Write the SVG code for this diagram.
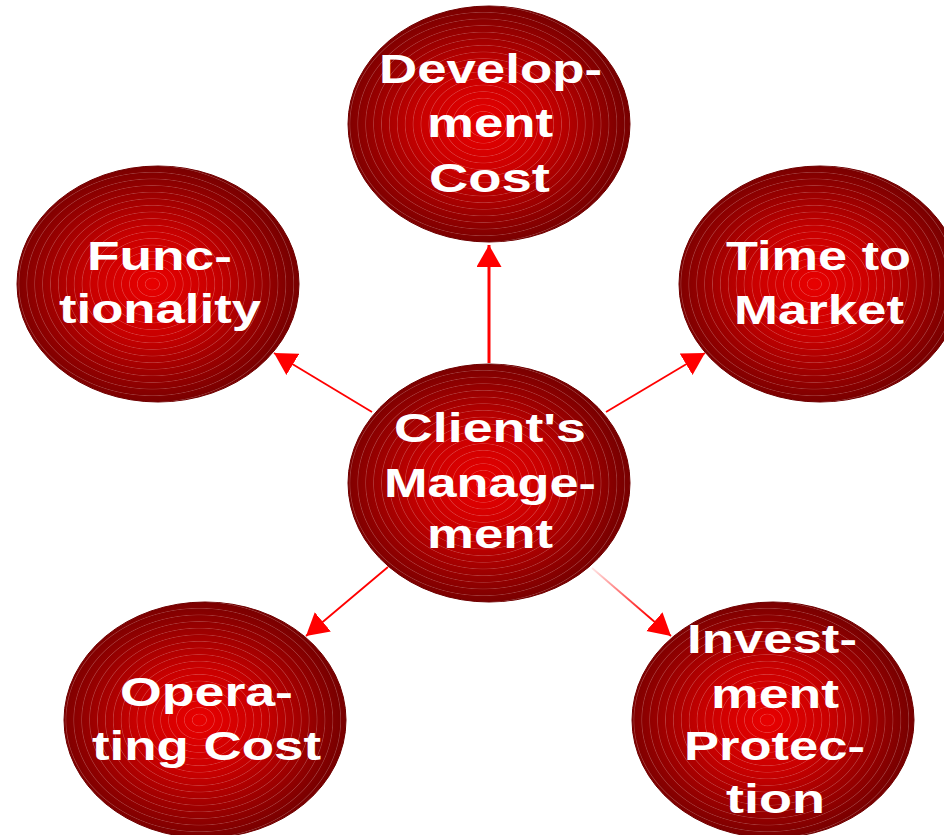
<svg xmlns="http://www.w3.org/2000/svg" width="944" height="835" viewBox="0 0 944 835">
<style>
.node{fill:url(#ball);stroke:#6e0000;stroke-width:1}
.ring{fill:url(#rings);stroke:none}
.lbl{font-family:"Liberation Sans",Arial,sans-serif;font-weight:bold;font-size:40px;fill:#fff}
.con{stroke:#ff0000;fill:none;stroke-width:1.8;marker-end:url(#ah)}
</style>
<defs>
<radialGradient id="ball" cx="0.48" cy="0.5" r="0.5">
<stop offset="0" stop-color="#e80000"/>
<stop offset="0.45" stop-color="#c80000"/>
<stop offset="1" stop-color="#7a0000"/>
</radialGradient>
<radialGradient id="rings" cx="0.48" cy="0.5" r="0.028" spreadMethod="repeat">
<stop offset="0" stop-color="#ffffff" stop-opacity="0"/>
<stop offset="0.8" stop-color="#ffffff" stop-opacity="0"/>
<stop offset="0.9" stop-color="#ffffff" stop-opacity="0.22"/>
<stop offset="1" stop-color="#ffffff" stop-opacity="0"/>
</radialGradient>
<linearGradient id="fade" gradientUnits="userSpaceOnUse" x1="592" y1="568" x2="650" y2="618">
<stop offset="0" stop-color="#ff0000" stop-opacity="0.1"/>
<stop offset="1" stop-color="#ff0000"/>
</linearGradient>
<marker id="ah" markerUnits="userSpaceOnUse" markerWidth="24" markerHeight="26" refX="22" refY="12.5" orient="auto" viewBox="0 0 24 26">
<path d="M0,0 L22,12.5 L0,25 z" fill="#ff0000"/>
</marker>
</defs>
<g id="connectors">
<path class="con" style="stroke-width:3" d="M489,363 L489,245"/>
<path class="con" d="M372,412 L274,353"/>
<path class="con" d="M606,412 L705,353"/>
<path class="con" d="M388,567 L306,636"/>
<path class="con" style="stroke:url(#fade)" d="M592,568 L671,636"/>
</g>
<g id="node-dev">
<ellipse class="node" cx="489" cy="124" rx="141" ry="118"/>
<ellipse class="ring" cx="489" cy="124" rx="141" ry="118"/>
<text class="lbl" x="379" y="83" textLength="223" lengthAdjust="spacingAndGlyphs">Develop-</text>
<text class="lbl" x="427" y="137" textLength="126" lengthAdjust="spacingAndGlyphs">ment</text>
<text class="lbl" x="429" y="192" textLength="121" lengthAdjust="spacingAndGlyphs">Cost</text>
</g>
<g id="node-func">
<ellipse class="node" cx="158" cy="284" rx="141" ry="118"/>
<ellipse class="ring" cx="158" cy="284" rx="141" ry="118"/>
<text class="lbl" x="87" y="270" textLength="145" lengthAdjust="spacingAndGlyphs">Func-</text>
<text class="lbl" x="59" y="323" textLength="202" lengthAdjust="spacingAndGlyphs">tionality</text>
</g>
<g id="node-ttm">
<ellipse class="node" cx="820" cy="284" rx="141" ry="118"/>
<ellipse class="ring" cx="820" cy="284" rx="141" ry="118"/>
<text class="lbl" x="726" y="270" textLength="185" lengthAdjust="spacingAndGlyphs">Time to</text>
<text class="lbl" x="734" y="324" textLength="170" lengthAdjust="spacingAndGlyphs">Market</text>
</g>
<g id="node-client">
<ellipse class="node" cx="489" cy="483" rx="141" ry="119"/>
<ellipse class="ring" cx="489" cy="483" rx="141" ry="119"/>
<text class="lbl" x="394" y="442" textLength="192" lengthAdjust="spacingAndGlyphs">Client's</text>
<text class="lbl" x="384" y="497" textLength="212" lengthAdjust="spacingAndGlyphs">Manage-</text>
<text class="lbl" x="427" y="548" textLength="126" lengthAdjust="spacingAndGlyphs">ment</text>
</g>
<g id="node-op">
<ellipse class="node" cx="205" cy="720" rx="141" ry="118"/>
<ellipse class="ring" cx="205" cy="720" rx="141" ry="118"/>
<text class="lbl" x="120" y="706" textLength="173" lengthAdjust="spacingAndGlyphs">Opera-</text>
<text class="lbl" x="92" y="760" textLength="229" lengthAdjust="spacingAndGlyphs">ting Cost</text>
</g>
<g id="node-inv">
<ellipse class="node" cx="773" cy="720" rx="141" ry="118"/>
<ellipse class="ring" cx="773" cy="720" rx="141" ry="118"/>
<text class="lbl" x="687" y="653" textLength="170" lengthAdjust="spacingAndGlyphs">Invest-</text>
<text class="lbl" x="711" y="708" textLength="128" lengthAdjust="spacingAndGlyphs">ment</text>
<text class="lbl" x="684" y="760" textLength="181" lengthAdjust="spacingAndGlyphs">Protec-</text>
<text class="lbl" x="726" y="813" textLength="99" lengthAdjust="spacingAndGlyphs">tion</text>
</g>
</svg>
